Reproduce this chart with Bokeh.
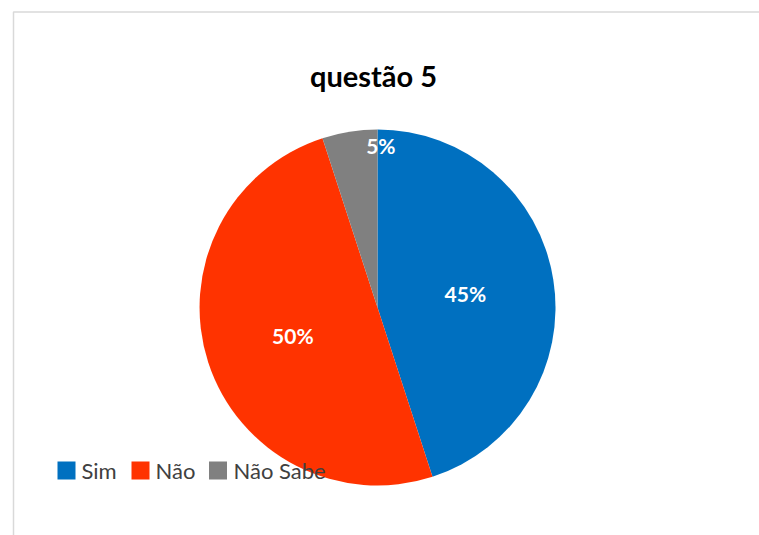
import math
from bokeh.plotting import figure
from bokeh.models import Range1d, ColumnDataSource
from bokeh.core.properties import value
from bokeh.embed import file_html
from bokeh.resources import INLINE

# data
categories = ["Sim", "Não", "Não Sabe"]
percents = [45, 50, 5]
colors = ["#0070C0", "#FF3300", "#808080"]
title_text = "questão 5"

W, H = 759, 535
p = figure(width=W, height=H, output_backend="svg", toolbar_location=None,
           x_range=Range1d(0, W), y_range=Range1d(0, H), min_border=0,
           background_fill_color="white", border_fill_color="white")
p.axis.visible = False
p.grid.visible = False
p.outline_line_color = None


def py(y):
    # page pixel row -> data y
    return H - y


# chart border (left and top)
p.line([13, 13, W], [0, py(11.5), py(11.5)], line_color="#d9d9d9", line_width=1.5)

cx, cy, r = 377, py(307), 178
total = sum(percents)
starts, ends, lx, ly = [], [], [], []
label_frac = [0.5, 0.5, 0.92]
x_off = [0, 0, 29]
cum = 0.0
for i, v in enumerate(percents):
    a0 = math.pi / 2 - 2 * math.pi * cum / total
    cum += v
    a1 = math.pi / 2 - 2 * math.pi * cum / total
    starts.append(a0)
    ends.append(a1)
    mid = (a0 + a1) / 2
    lx.append(cx + r * label_frac[i] * math.cos(mid) + x_off[i])
    ly.append(cy + r * label_frac[i] * math.sin(mid))

src = ColumnDataSource(dict(start=starts, end=ends, color=colors,
                            lx=lx, ly=ly, lab=[f"{v}%" for v in percents]))
p.wedge(x=cx, y=cy, radius=r, start_angle="start", end_angle="end",
        direction="clock", fill_color="color", line_color=None, source=src)
p.text(x="lx", y="ly", text="lab", source=src, text_color="white",
       text_font=value("Lato"), text_font_style="bold", text_font_size="21px",
       text_align="center", text_baseline="middle")

# title
p.text(x=[373], y=[py(75)], text=[title_text], text_color="black",
       text_font=value("Lato"), text_font_style="bold", text_font_size="29px",
       text_align="center", text_baseline="middle")

# legend
sq_x = [66, 140, 217.5]
tx = [81, 155, 233]
leg_y = py(470)
p.rect(x=sq_x, y=[leg_y] * 3, width=18, height=18, fill_color=colors, line_color=None)
p.text(x=tx, y=[leg_y] * 3, text=categories, text_color="#404040",
       text_font=value("Lato"), text_font_size="22px",
       text_align="left", text_baseline="middle")

open("out.html", "w").write(file_html(p, INLINE))
